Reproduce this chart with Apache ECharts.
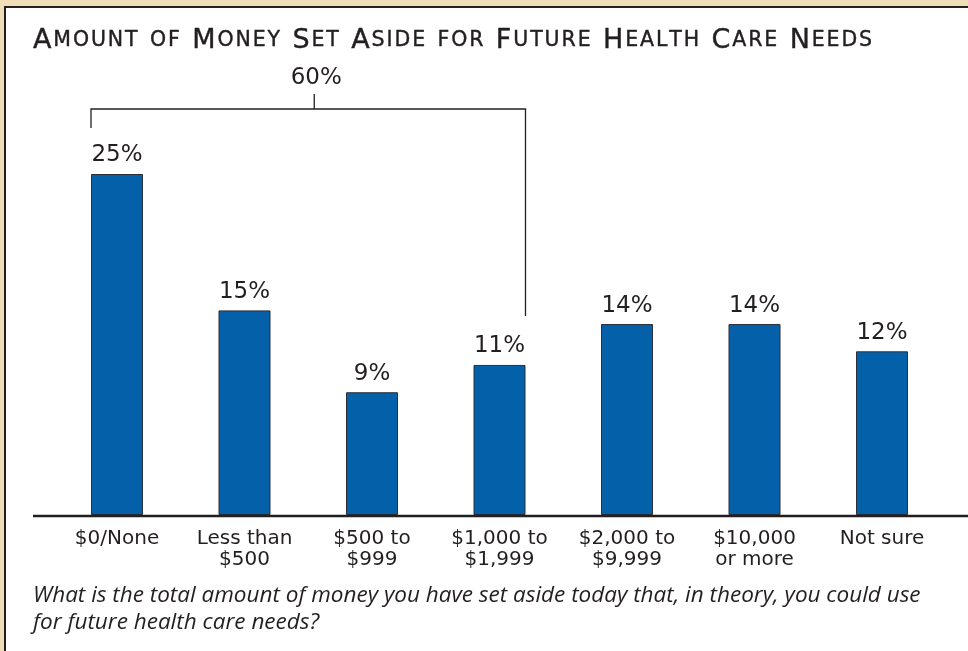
<!DOCTYPE html>
<html>
<head>
<meta charset="utf-8">
<script src="https://cdn.jsdelivr.net/npm/echarts@6/dist/echarts.min.js"></script>
<style>html,body{margin:0;padding:0;background:#EEDDB6;}#c{width:968px;height:651px;}</style>
</head>
<body>
<div id="c"></div>
<script>
var titleText = 'Amount of Money Set Aside for Future Health Care Needs';
var categories = ['$0/None', 'Less than\n$500', '$500 to\n$999', '$1,000 to\n$1,999', '$2,000 to\n$9,999', '$10,000\nor more', 'Not sure'];
var values = [25, 15, 9, 11, 14, 14, 12];
var bracketFrom = 0, bracketTo = 3;
var footnote = 'What is the total amount of money you have set aside today that, in theory, you could use\nfor future health care needs?';

// small caps rendered as per-character rich tokens (allows letter spacing)
function smallCaps(s) {
  var out = '';
  for (var i = 0; i < s.length; i++) {
    var ch = s[i];
    var st = (ch >= 'a' && ch <= 'z') ? 's' : 'b';
    out += '{' + st + '|' + ch.toUpperCase() + '}';
  }
  return out;
}

var chart = echarts.init(document.getElementById('c'), null, {renderer: 'canvas'});
var FONT = 'DejaVu Sans';
var option = {
  backgroundColor: '#EEDDB6',
  animation: false,
  title: [{
    text: smallCaps(titleText),
    left: 32, top: 27, padding: 0,
    textStyle: {
      fontWeight: 'normal',
      rich: {
        b: {fontFamily: FONT, fontSize: 27, fontWeight: 'normal', color: '#231f20', textBorderColor: '#231f20', textBorderWidth: 0.4, padding: [0, 0.95, 0, 0.95]},
        s: {fontFamily: FONT, fontSize: 20.5, fontWeight: 'normal', color: '#231f20', textBorderColor: '#231f20', textBorderWidth: 0.4, padding: [0, 0.95, 0, 0.95]}
      }
    }
  }, {
    text: footnote,
    left: 33, top: 582, padding: 0,
    textStyle: {fontFamily: 'Open Sans', fontStyle: 'italic', fontWeight: 'normal', fontSize: 22.5, lineHeight: 27, color: '#231f20'}
  }],
  grid: {left: 53.25, right: 22.25, top: 105.8, bottom: 136},
  xAxis: {
    type: 'category', data: categories,
    axisLine: {show: false}, axisTick: {show: false},
    axisLabel: {fontFamily: FONT, fontSize: 20, color: '#231f20', lineHeight: 21, margin: 13, interval: 0}
  },
  yAxis: {type: 'value', min: 0, max: 30, show: false, splitLine: {show: false}},
  series: [{
    type: 'bar', data: values, barWidth: 52,
    itemStyle: {color: '#0360A9', borderColor: '#2a2f3a', borderWidth: 1},
    label: {show: true, position: 'top', distance: 7, formatter: '{c}%', fontFamily: FONT, fontSize: 23, color: '#231f20'}
  }]
};
chart.setOption(option);

function px(i, v) { return chart.convertToPixel({seriesIndex: 0}, [i, v]); }
var half = 26;
var base = px(0, 0)[1];
var xl = px(bracketFrom, 0)[0] - half;
var xr = px(bracketTo, 0)[0] + half;
var topL = px(bracketFrom, values[bracketFrom])[1];
var topR = px(bracketTo, values[bracketTo])[1];
var yH = topL - 65;
var total = 0;
for (var k = bracketFrom; k <= bracketTo; k++) total += values[k];
var xm = (xl + xr) / 2 + 6;
var lineStyle = {stroke: '#231f20', lineWidth: 1.3};
chart.setOption({
  graphic: [
    {type: 'rect', z: -10, shape: {x: 5, y: 7, width: 1000, height: 700}, style: {fill: '#ffffff', stroke: '#231f20', lineWidth: 2}},
    {type: 'line', z: 5, shape: {x1: 33, y1: base + 1, x2: 968, y2: base + 1}, style: {stroke: '#231f20', lineWidth: 2.5}},
    {type: 'polyline', z: 5, shape: {points: [[xl, topL - 46], [xl, yH], [xr, yH], [xr, topR - 49]]}, style: {stroke: '#231f20', lineWidth: 1.3, fill: null}},
    {type: 'line', z: 5, shape: {x1: xm, y1: yH, x2: xm, y2: yH - 15}, style: lineStyle},
    {type: 'text', z: 5, x: xm + 2, y: yH - 31, style: {text: total + '%', font: '23px "DejaVu Sans"', fill: '#231f20', textAlign: 'center', textVerticalAlign: 'middle'}}
  ]
});
</script>
</body>
</html>
